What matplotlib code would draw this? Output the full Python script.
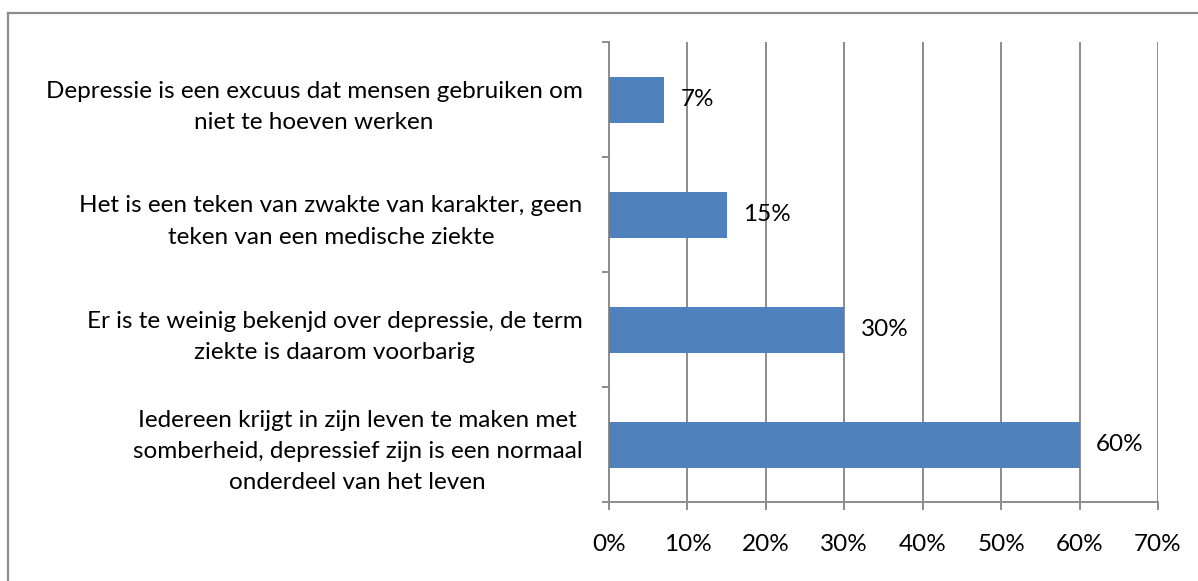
import matplotlib
matplotlib.use('Agg')
import matplotlib.pyplot as plt
from matplotlib.lines import Line2D

# data, bottom to top as drawn
labels = [
    "Iedereen krijgt in zijn leven te maken met\nsomberheid, depressief zijn is een normaal\nonderdeel van het leven",
    "Er is te weinig bekenjd over depressie, de term\nziekte is daarom voorbarig",
    "Het is een teken van zwakte van karakter, geen\nteken van een medische ziekte",
    "Depressie is een excuus dat mensen gebruiken om\nniet te hoeven werken",
]
values = [60, 30, 15, 7]
xticks = [0, 10, 20, 30, 40, 50, 60, 70]

plt.rcParams['font.family'] = ['Lato', 'DejaVu Sans']
grey = '#8c8c8c'
fs = 17.5

fig = plt.figure(figsize=(11.98, 5.81), dpi=100)
ax = fig.add_axes([609 / 1198, 1 - 502 / 581, 549 / 1198, 460 / 581])

ypos = list(range(len(values)))
ax.barh(ypos, values, height=0.4, color='#4f81bd', zorder=3)
for y, v in zip(ypos, values):
    ax.annotate(f"{v}%", (v, y), xytext=(12, 0), textcoords='offset points',
                va='center', ha='left', fontsize=fs, zorder=4)

ax.set_xlim(0, 70)
ax.set_ylim(-0.5, len(values) - 0.5)
ax.set_xticks(xticks)
ax.set_xticklabels([f"{t}%" for t in xticks], fontsize=fs)
ax.tick_params(axis='x', length=6, width=1.4, color=grey, pad=17)
ax.xaxis.grid(True, color=grey, linewidth=1.4, zorder=0)

# category labels centred on bars, ticks at the category edges
ax.set_yticks(ypos)
ax.set_yticklabels(labels, fontsize=fs, multialignment='center', linespacing=1.6)
ax.tick_params(axis='y', length=0, pad=19)
ax.set_yticks([y - 0.5 for y in ypos] + [len(values) - 0.5], minor=True)
ax.tick_params(axis='y', which='minor', length=5, width=1.4, color=grey)

for s in ['top', 'right']:
    ax.spines[s].set_visible(False)
for s in ['left', 'bottom']:
    ax.spines[s].set_color(grey)
    ax.spines[s].set_linewidth(1.4)

# outer chart frame (only top and left edges are visible)
fig.add_artist(Line2D([8 / 1198, 1], [1 - 13 / 581, 1 - 13 / 581], color=grey, lw=1.6, transform=fig.transFigure))
fig.add_artist(Line2D([8 / 1198, 8 / 1198], [0, 1 - 13 / 581], color=grey, lw=1.6, transform=fig.transFigure))

fig.savefig('out.png', dpi=100)
